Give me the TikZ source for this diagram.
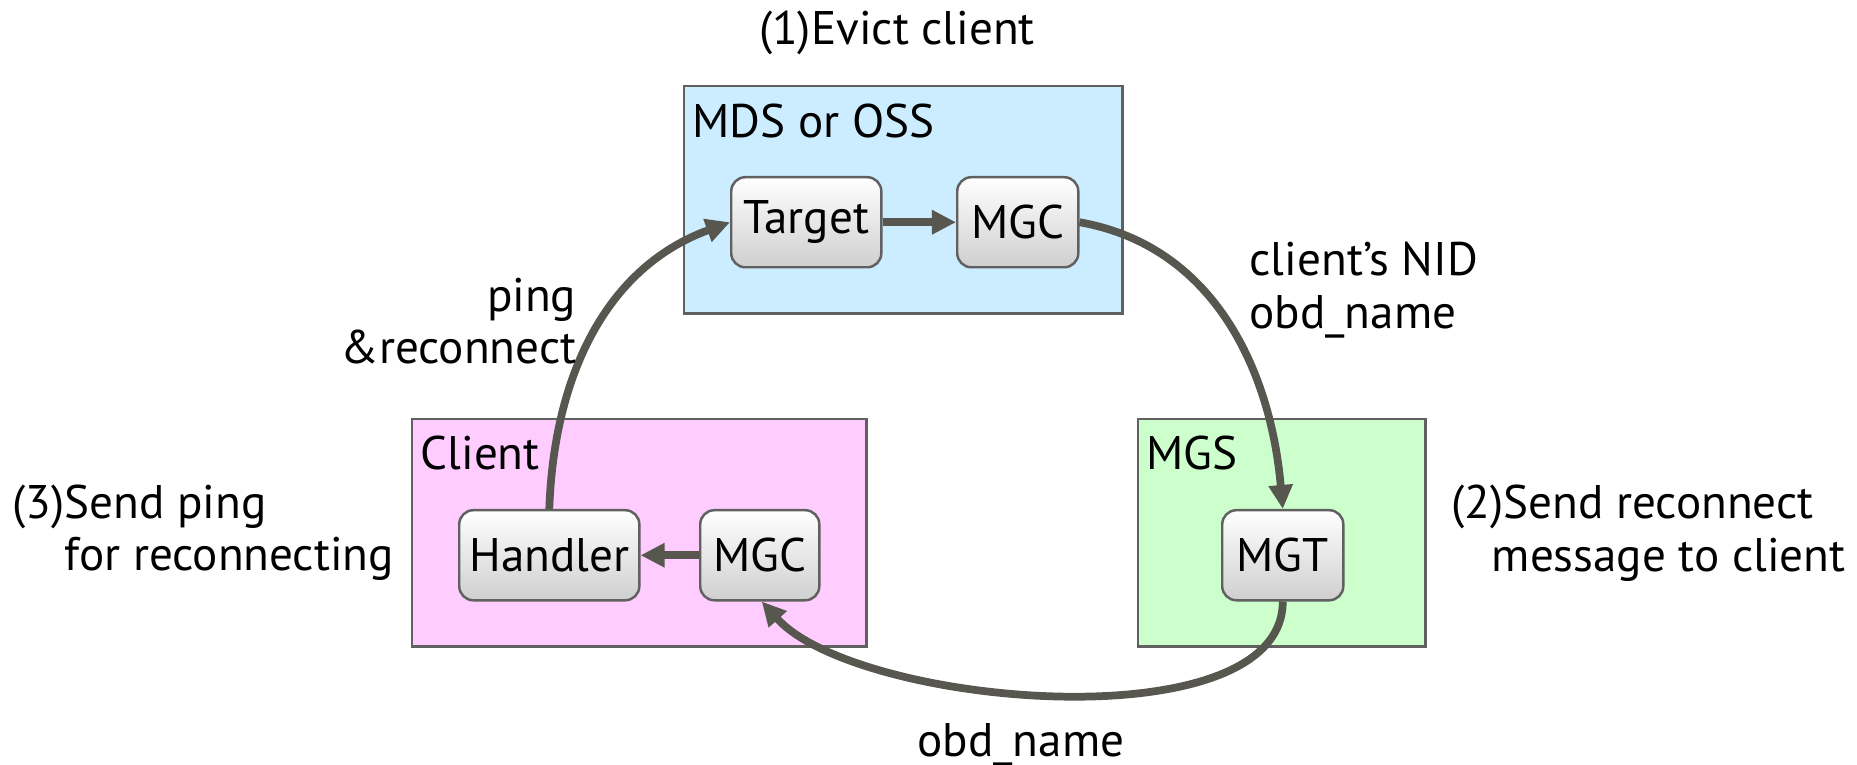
\documentclass[tikz,border=0pt]{standalone}
\usepackage{fontspec}
\setmainfont{PT Sans}
\usetikzlibrary{positioning,arrows.meta}
\usepackage{xcolor}
\definecolor{mdsblue}{HTML}{CCECFF}
\definecolor{clientpink}{HTML}{FFCCFF}
\definecolor{mgsgreen}{HTML}{CCFFCC}
\definecolor{framegray}{HTML}{606060}
\definecolor{flowgray}{HTML}{57574F}
\definecolor{partgray}{HTML}{CFCFCF}

\begin{document}
\begin{tikzpicture}[x=0.01cm,y=-0.01cm,
  font=\fontsize{13.4}{15}\selectfont,
  host/.style={draw=framegray,line width=0.7pt,anchor=north west,inner sep=0pt,minimum height=2.27cm},
  part/.style={draw=framegray,line width=0.7pt,rounded corners=4pt,top color=white,bottom color=partgray,
    anchor=north west,inner sep=0pt,minimum height=0.9cm},
  flow/.style={draw=flowgray,line width=2.2pt,-{Triangle[length=0.24cm,width=0.23cm]}}]
\useasboundingbox (0,0) rectangle (1857,765);
% hosts
\node[host,fill=mdsblue,minimum width=4.38cm] (mds) at (683,85) {};
\node[host,fill=clientpink,minimum width=4.54cm] (client) at (411,418) {};
\node[host,fill=mgsgreen,minimum width=2.87cm] (mgs) at (1137,418) {};
\node[anchor=base west,inner sep=0pt] at (692,138) {MDS or OSS};
\node[anchor=base west,inner sep=0pt] at (420,470) {Client};
\node[anchor=base west,inner sep=0pt] at (1146,470) {MGS};
% parts
\node[part,minimum width=1.5cm] (target) at (730,176) {Target};
\node[part,minimum width=1.21cm] (mgcs) at (956,176) {MGC};
\node[part,minimum width=1.8cm] (handler) at (458,509) {Handler};
\node[part,minimum width=1.19cm] (mgcc) at (699,509) {MGC};
\node[part,minimum width=1.21cm] (mgt) at (1221,509) {MGT};
% flows
\draw[flow] (target) -- (mgcs);
\draw[flow] (mgcc) -- (handler);
\draw[flow] (mgcs.east) to[out=-10,in=95] (mgt.north);
\draw[flow] (mgt.south) to[out=-90,in=-48,looseness=0.7] ([xshift=0.02cm]mgcc.south);
\draw[flow] (handler.north) to[out=88,in=200] (target.west);
% steps
\node[anchor=base,inner sep=0pt] at (897,45) {(1)Evict client};
\node[anchor=west,align=left,inner sep=0pt] at (1451,533) {(2)Send reconnect\\\hspace{0.4cm}message to client};
\node[anchor=west,align=left,inner sep=0pt] at (12,533) {(3)Send ping\\\phantom{(3)}for reconnecting};
\node[anchor=west,align=left,inner sep=0pt] at (1249,290) {client’s NID\\obd\_name};
\node[anchor=east,align=right,inner sep=0pt] at (577,321) {ping\\\&reconnect};
\node[anchor=base,inner sep=0pt] at (1021,757) {obd\_name};
\end{tikzpicture}
\end{document}
